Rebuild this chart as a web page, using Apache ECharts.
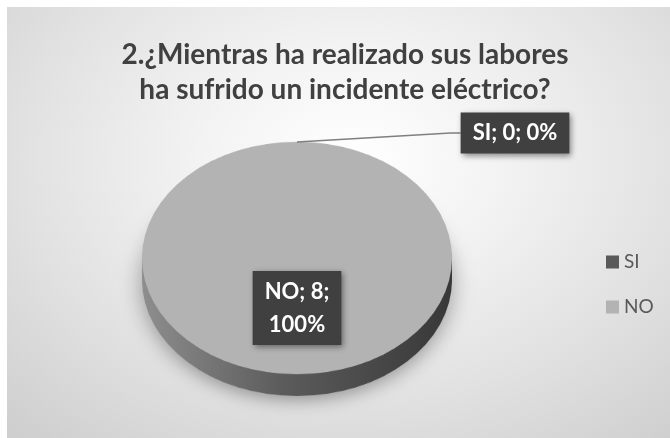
<!DOCTYPE html>
<html>
<head>
<meta charset="utf-8">
<script src="https://cdn.jsdelivr.net/npm/echarts@6/dist/echarts.min.js"></script>
<style>
  html, body { margin: 0; padding: 0; width: 670px; height: 438px; overflow: hidden; background: #ffffff; }
  #bg { position: absolute; left: 7px; top: 7px; width: 663px; height: 431px;
        background: radial-gradient(ellipse 75% 85% at 52% 35%, #ffffff 0%, #f3f3f3 30%, #e2e2e2 65%, #cfcfcf 100%); }
  #pie { position: absolute; left: 0; top: 0; width: 670px; height: 584px; transform: scaleY(0.75); transform-origin: 0 0; }
  #over { position: absolute; left: 0; top: 0; width: 670px; height: 438px; }
</style>
</head>
<body>
<div id="bg"></div>
<div id="pie"></div>
<div id="over"></div>
<script>
// ---- data ----
const titleText = '2.¿Mientras ha realizado sus labores\nha sufrido un incidente eléctrico?';
const categories = ['SI', 'NO'];
const values = [0, 8];
const topColors = ['#595959', '#b3b3b3'];

// ---- pie (drawn, then squashed vertically to look tilted) ----
const SCALE = 0.75;
const CX = 297, CY = 258 / SCALE, R = 155;
const sideOffsets = [29, 20, 10];

const sideGradient = {
  type: 'linear', x: 0, y: 0, x2: 1, y2: 0,
  colorStops: [
    { offset: 0, color: '#8e8e8e' },
    { offset: 0.45, color: '#5c5c5c' },
    { offset: 1, color: '#383838' }
  ]
};

function pieData(colorFn) {
  return categories.map((c, i) => ({ name: c, value: values[i], itemStyle: { color: colorFn(i) } }));
}

const pieSeries = [];
sideOffsets.forEach((off, k) => {
  pieSeries.push({
    type: 'pie', silent: true, animation: false,
    center: [CX, CY + off], radius: R, startAngle: 90, clockwise: true,
    z: 1 + k,
    label: { show: false }, labelLine: { show: false },
    itemStyle: k === 0 ? { shadowBlur: 22, shadowColor: 'rgba(0,0,0,0.35)', shadowOffsetY: 6 } : {},
    data: pieData(() => sideGradient)
  });
});
pieSeries.push({
  type: 'pie', silent: true, animation: false,
  center: [CX, CY], radius: R, startAngle: 90, clockwise: true, z: 10,
  label: { show: false }, labelLine: { show: false },
  data: pieData(i => topColors[i])
});

const pieChart = echarts.init(document.getElementById('pie'), null, { renderer: 'canvas' });
pieChart.setOption({ animation: false, series: pieSeries });

// ---- overlay: title, legend, data labels ----
const labelBox = {
  color: '#ffffff', fontFamily: 'Lato', fontWeight: 'bold', fontSize: 22,
  backgroundColor: '#404040', shadowColor: 'rgba(0,0,0,0.45)', shadowBlur: 6,
  shadowOffsetX: 2, shadowOffsetY: 2
};

const over = echarts.init(document.getElementById('over'), null, { renderer: 'canvas' });
over.setOption({
  animation: false,
  title: {
    text: titleText, left: 340, top: 32, textAlign: 'center',
    textStyle: { fontFamily: 'Lato', fontWeight: 'bold', fontSize: 28, lineHeight: 35, color: '#404040' }
  },
  legend: {
    orient: 'vertical', left: 601, top: 247, itemWidth: 13, itemHeight: 13, itemGap: 25,
    icon: 'rect',
    textStyle: { fontFamily: 'Lato', fontSize: 19, lineHeight: 20, color: '#595959' },
    data: categories.map((c, i) => ({ name: c, itemStyle: { color: topColors[i] } }))
  },
  series: [
    {
      type: 'pie', silent: true, animation: false, avoidLabelOverlap: false,
      center: [CX, 258], radius: 94, startAngle: 90, clockwise: true,
      itemStyle: { color: 'transparent' },
      labelLine: { show: false },
      data: categories.map((c, i) => ({
        name: c, value: values[i],
        label: c === 'NO'
          ? Object.assign({ show: true, position: 'inside', formatter: '{b}; {c};\n{d}%', lineHeight: 33, padding: [4, 12] }, labelBox)
          : { show: false }
      }))
    },
    {
      type: 'pie', silent: true, animation: false, avoidLabelOverlap: false,
      center: [CX, 258], radius: 116, startAngle: 90, clockwise: true,
      itemStyle: { color: 'transparent' },
      labelLayout: function (p) {
        if (p.dataIndex === 0) return { x: 515, y: 133, align: 'center', verticalAlign: 'middle' };
        return {};
      },
      data: categories.map((c, i) => ({
        name: c, value: values[i],
        label: c === 'SI'
          ? Object.assign({ show: true, position: 'outside', formatter: '{b}; {c}; {d}%', lineHeight: 33, padding: [4, 12] }, labelBox)
          : { show: false },
        labelLine: c === 'SI'
          ? { show: true, length: 10, length2: 10, lineStyle: { color: '#7f7f7f', width: 1.5 } }
          : { show: false }
      }))
    }
  ]
});
</script>
</body>
</html>
